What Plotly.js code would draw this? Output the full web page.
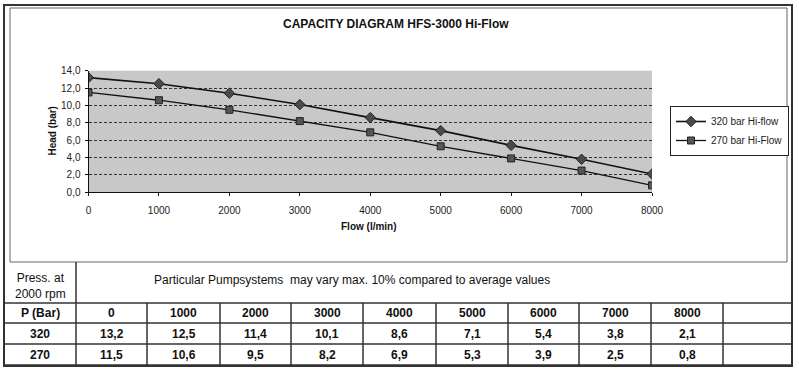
<!DOCTYPE html>
<html><head><meta charset="utf-8">
<script src="https://cdn.plot.ly/plotly-3.0.1.min.js"></script>
<style>html,body{margin:0;padding:0;background:#fff}#chart{width:799px;height:376px}</style>
</head><body><div id="chart"></div>
<script>
const flowValues = [0, 1000, 2000, 3000, 4000, 5000, 6000, 7000, 8000];
const head320 = [13.2, 12.5, 11.4, 10.1, 8.6, 7.1, 5.4, 3.8, 2.1];
const head270 = [11.5, 10.6, 9.5, 8.2, 6.9, 5.3, 3.9, 2.5, 0.8];
const seriesNames = ['320 bar Hi-flow', '270 bar Hi-Flow'];
const tableRowLabels = ['320', '270'];
const tableCornerLabel = 'P (Bar)';
const chartTitle = 'CAPACITY DIAGRAM HFS-3000 Hi-Flow';
const xAxisTitle = 'Flow (l/min)';
const yAxisTitle = 'Head (bar)';
const noteLeft = 'Press. at<br>2000 rpm';
const noteText = 'Particular Pumpsystems\u00a0 may vary max. 10% compared to average values';

const W = 799, H = 376;
const px = x => x / W;
const py = y => 1 - y / H;
const FONT = 'Liberation Sans, Arial, sans-serif';
const fmt = v => v.toFixed(1).replace('.', ',');

/* table grid geometry (pixels) */
const colEdges = [4, 76, 147, 220, 291, 363, 436, 508, 579, 651, 723, 792];
const rowEdges = [303, 323, 344, 365];

const tr320 = {
  type: 'scatter', mode: 'lines+markers', name: seriesNames[0],
  x: flowValues, y: head320,
  line: {color: '#111', width: 1.6},
  marker: {symbol: 'diamond', size: 8, color: '#4a4a4a', line: {color: '#222', width: 1}}
};
const tr270 = {
  type: 'scatter', mode: 'lines+markers', name: seriesNames[1],
  x: flowValues, y: head270,
  line: {color: '#111', width: 1.3},
  marker: {symbol: 'square', size: 7, color: '#555', line: {color: '#222', width: 1}}
};

/* table content built from the data arrays */
const tableRows = [
  [tableCornerLabel].concat(flowValues.map(String)).concat(['']),
  [tableRowLabels[0]].concat(head320.map(fmt)).concat(['']),
  [tableRowLabels[1]].concat(head270.map(fmt)).concat([''])
];

const shapes = [
  {type: 'rect', xref: 'paper', yref: 'paper', x0: px(4), x1: px(792), y0: py(366), y1: py(5),
   line: {color: '#333', width: 2}},
  {type: 'rect', xref: 'paper', yref: 'paper', x0: px(10), x1: px(787), y0: py(262), y1: py(8),
   line: {color: '#666', width: 1}},
  {type: 'line', xref: 'paper', yref: 'paper', x0: px(76), x1: px(76), y0: py(303), y1: py(262),
   line: {color: '#333', width: 1.5}}
];
rowEdges.forEach(y => shapes.push({type: 'line', xref: 'paper', yref: 'paper',
  x0: px(colEdges[0]), x1: px(colEdges[colEdges.length - 1]), y0: py(y), y1: py(y),
  line: {color: '#333', width: 1.5}}));
colEdges.forEach(x => shapes.push({type: 'line', xref: 'paper', yref: 'paper',
  x0: px(x), x1: px(x), y0: py(rowEdges[0]), y1: py(rowEdges[rowEdges.length - 1]),
  line: {color: '#333', width: 1.5}}));

const annotations = [
  {text: '<b>' + chartTitle + '</b>', x: px(396), y: py(24)},
  {text: '<b>' + yAxisTitle + '</b>', x: px(52), y: py(131.5), textangle: -90, size: 10},
  {text: '<b>' + xAxisTitle + '</b>', x: px(369), y: py(226), size: 10},
  {text: noteLeft, x: px(40), y: py(286)},
  {text: noteText, x: px(152), y: py(280), xanchor: 'left'}
].map(a => ({
  text: a.text, x: a.x, y: a.y, xref: 'paper', yref: 'paper', showarrow: false,
  xanchor: a.xanchor || 'center', yanchor: 'middle', textangle: a.textangle || 0,
  font: {family: FONT, size: a.size || 12, color: '#111'}
}));
tableRows.forEach((row, r) => row.forEach((txt, c) => {
  if (txt === '') return;
  annotations.push({
    text: '<b>' + txt + '</b>', xref: 'paper', yref: 'paper', showarrow: false,
    x: px((colEdges[c] + colEdges[c + 1]) / 2), y: py((rowEdges[r] + rowEdges[r + 1]) / 2),
    xanchor: 'center', yanchor: 'middle',
    font: {family: FONT, size: 12, color: '#111'}
  });
}));

const layout = {
  width: W, height: H,
  margin: {l: 0, r: 0, t: 0, b: 0},
  paper_bgcolor: '#fff', plot_bgcolor: '#c8c8c8',
  separators: ', ',
  font: {family: FONT, size: 10, color: '#222'},
  showlegend: true,
  legend: {
    x: px(670), y: py(131), xanchor: 'left', yanchor: 'middle',
    bordercolor: '#222', borderwidth: 1, bgcolor: '#fff',
    font: {family: FONT, size: 10, color: '#222'},
    itemwidth: 30, tracegroupgap: 0
  },
  xaxis: {
    domain: [px(88.5), px(652)], range: [0, 8000], tickvals: flowValues,
    showgrid: false, zeroline: false, showline: true, linecolor: '#111', linewidth: 1,
    ticks: 'outside', ticklen: 3, tickcolor: '#111', ticklabelstandoff: 6,
    tickfont: {family: FONT, size: 10, color: '#222'}, fixedrange: true
  },
  yaxis: {
    domain: [py(192.3), py(70.7)], range: [0, 14], dtick: 2, tick0: 0, tickformat: '.1f',
    showgrid: true, gridcolor: '#333', griddash: '3px,2px', gridwidth: 1,
    zeroline: false, showline: true, linecolor: '#111', linewidth: 1,
    ticks: 'outside', ticklen: 3, tickcolor: '#111', ticklabelstandoff: 2,
    tickfont: {family: FONT, size: 10, color: '#222'}, fixedrange: true
  },
  annotations: annotations,
  shapes: shapes
};

Plotly.newPlot('chart', [tr320, tr270], layout, {displayModeBar: false, staticPlot: true});
</script>
</body></html>
